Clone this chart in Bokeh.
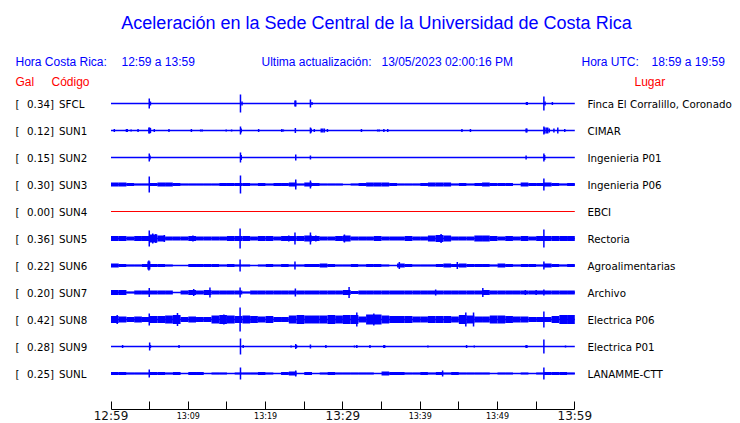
from bokeh.plotting import figure
from bokeh.models import Range1d, LinearAxis, FixedTicker, ColumnDataSource
from bokeh.core.properties import value
from bokeh.embed import file_html
from bokeh.resources import INLINE

# ---------------- data ----------------
TITLE = "Aceleración en la Sede Central de la Universidad de Costa Rica"
INFO_LEFT = ["Hora Costa Rica:", "12:59 a 13:59"]
INFO_MID = ["Ultima actualización:", "13/05/2023 02:00:16 PM"]
INFO_RIGHT = ["Hora UTC:", "18:59 a 19:59"]

STATIONS = ["SFCL", "SUN1", "SUN2", "SUN3", "SUN4", "SUN5", "SUN6", "SUN7", "SUN8", "SUN9", "SUNL"]
GAL = [0.34, 0.12, 0.15, 0.30, 0.00, 0.36, 0.22, 0.20, 0.42, 0.28, 0.25]
PLACES = ["Finca El Corralillo, Coronado", "CIMAR", "Ingenieria P01", "Ingenieria P06", "EBCI",
          "Rectoria", "Agroalimentarias", "Archivo", "Electrica P06", "Electrica P01", "LANAMME-CTT"]

TICK_MIN = list(range(0, 61, 5))
MAJOR_LABELS = {0: "12:59", 30: "13:29", 60: "13:59"}
MINOR_LABELS = {10: "13:09", 20: "13:19", 40: "13:39", 50: "13:49"}

# per-minute envelope (half-height, px)
ENV_SUN3 = [2, 2, 1.5, 1, 1, 1.5, 2, 2, 1.5, 1, 1, 1, 1, 1, 1.5, 1.5, 1.5, 1.5, 1, 1.5,
            1, 1.5, 1.5, 2, 1, 2, 1.5, 1, 1, 1, 0.5, 1, 1.5, 2, 2, 2, 1.5, 1, 1, 1,
            1.5, 2, 2, 2, 1, 1.5, 1, 1.5, 2, 1.5, 1.5, 1.5, 0.5, 2, 1.5, 1.5, 2, 1.5, 1, 1.5]
ENV_SUN5 = [2.5, 2.5, 2, 2.5, 2.5, 4, 3, 2, 2, 2, 2.5, 2, 2, 2, 2, 2.5, 2.5, 2.5, 2, 2.5,
            2.5, 2, 2.5, 2.5, 2.5, 3, 2.5, 2, 2, 2.5, 3, 2, 2, 2, 2.5, 2, 2, 2, 2.5, 2,
            2, 3, 3.5, 3, 2, 2, 2, 3, 3, 2.5, 2, 2.5, 2, 2.5, 2, 2.5, 2.5, 2.5, 2.5, 2.5]
ENV_SUN6 = [2, 1.5, 1, 1, 1.5, 1.5, 1.5, 1, 0.5, 0.5, 1.5, 1.5, 1.5, 1.5, 1, 1.5, 1, 1, 0.5, 1,
            1.5, 1, 1.5, 1, 1, 1.5, 1.5, 2, 1.5, 1, 1, 1.5, 1, 1.5, 1.5, 1, 0.5, 2, 1.5, 1,
            1, 1, 1.5, 2, 1.5, 2, 1.5, 1.5, 1.5, 1, 2, 1.5, 1, 1.5, 1.5, 1, 2, 1.5, 1, 1.5]
ENV_SUN7 = [2.5, 2.5, 1, 2, 2, 2, 2, 2, 0.5, 2, 2.5, 2, 2.5, 2, 2, 2, 2, 1, 2, 2,
            2, 2, 2, 2, 2, 2, 2, 2, 2, 2, 2.5, 1.5, 2, 2, 2, 2, 2, 2, 2, 2,
            2, 2, 2, 2, 2, 2, 2, 2, 2.5, 2, 2, 2, 2, 2, 2, 2, 2, 2, 2, 2]
ENV_SUN8 = [3.5, 3, 2.5, 3, 2.5, 3.5, 3.5, 4, 4.5, 2.5, 3, 2.5, 2.5, 4, 4.5, 4, 3.5, 4, 3.5, 3,
            3.5, 2.5, 2.5, 4, 4.5, 4, 4, 4, 4.5, 4, 4.5, 4.5, 3, 5, 5, 4, 3.5, 3.5, 3.5, 3,
            3, 3.5, 3.5, 3.5, 3, 4.5, 4, 3, 3, 4, 4, 3.5, 3, 3, 2.5, 2.5, 2.5, 3.5, 4.5, 4.5]
ENV_SUNL = [1.5, 1.5, 1, 1, 1, 1.5, 1.5, 1, 1.5, 0.5, 1.5, 1.5, 0.5, 1, 1, 0.5, 1, 1, 1, 1.5,
            1, 0.5, 1.5, 2, 0.5, 1.5, 0.5, 1, 1.5, 1, 1, 1, 1, 1, 0.5, 2, 1.5, 1.5, 1, 1,
            1.5, 1, 1.5, 1, 1.5, 1, 1, 1, 1, 0.5, 1, 1, 0.5, 1, 0.5, 1, 1.5, 1.5, 1.5, 1]

# spikes: (minute after 12:59, half-height px)
SPK_SFCL = [(4.95, 5), (5.1, 2), (16.75, 9), (16.95, 2), (23.8, 3), (23.9, 3), (25.8, 4), (26.0, 1.5),
            (53.75, 1.5), (53.85, 1.5), (56.0, 7), (56.15, 2), (57.1, 1.5)]
SPK_SUN1 = [(0.43, 1.5), (2.0, 1.5), (2.1, 1.5), (2.6, 1), (3.5, 1.5), (4.9, 3), (5.0, 3), (5.1, 2.5),
            (5.6, 1.5), (7.5, 1.5), (10.4, 1.5), (11.6, 1), (11.8, 1), (14.9, 1), (15.6, 1), (16.75, 4),
            (16.85, 2), (19.1, 1.5), (22.1, 1.5), (22.3, 1), (23.85, 2.5), (25.8, 3), (25.9, 2),
            (26.3, 1.5), (27.2, 2), (27.4, 2), (27.6, 2), (28.0, 1.5), (32.4, 1.5), (34.5, 1), (34.7, 1),
            (35.3, 1.5), (35.8, 1.5), (45.4, 1.5), (46.5, 1.5), (53.7, 2), (53.8, 2), (56.0, 4),
            (56.1, 3), (56.3, 3), (56.5, 3), (56.7, 2), (57.3, 2), (57.8, 3), (58.7, 1.5)]
SPK_SUN2 = [(4.95, 4), (5.05, 2), (16.75, 5), (16.85, 2.5), (23.9, 3), (25.8, 2), (53.7, 2),
            (56.0, 4), (56.1, 2.5)]
SPK_SUN3 = [(4.95, 8), (16.75, 9), (23.9, 5), (25.8, 4), (56.0, 6)]
SPK_SUN4 = []
SPK_SUN5 = [(4.95, 8), (5.4, 5), (5.8, 4.5), (6.9, 3.5), (10.6, 3), (16.7, 10), (23.0, 3), (23.8, 6),
            (25.8, 6), (26.5, 3), (30.2, 4), (42.7, 4.5), (56.0, 9)]
SPK_SUN6 = [(4.8, 4), (4.9, 5), (5.0, 4), (16.7, 6), (23.8, 4), (37.3, 3.5), (44.8, 3.5), (56.0, 4)]
SPK_SUN7 = [(4.95, 4.5), (10.7, 3.5), (12.8, 5), (16.7, 5), (23.85, 4), (30.8, 5.5), (42.0, 3),
            (48.1, 4.5), (53.6, 2.5), (55.0, 2.5), (56.0, 3)]
SPK_SUN8 = [(0.8, 4.5), (4.95, 6), (8.6, 6.5), (14.6, 5), (16.7, 12), (31.8, 7), (34.0, 6),
            (45.9, 7), (46.9, 7), (56.0, 8)]
SPK_SUN9 = [(1.5, 1.5), (5.0, 4), (5.1, 1.5), (8.8, 1.5), (16.75, 8), (17.1, 1.5), (23.3, 1),
            (23.9, 2.5), (24.0, 1.5), (25.8, 2), (27.8, 1.5), (31.5, 1), (31.8, 1.5), (33.5, 1.5),
            (35.3, 1.5), (35.4, 1.5), (41.0, 1), (46.0, 1.5), (47.0, 1), (53.7, 1.5), (53.8, 1.5),
            (56.0, 7), (58.8, 1)]
SPK_SUNL = [(4.95, 4), (16.75, 6), (23.9, 3), (42.9, 3), (56.0, 6)]

ENVS = [None, None, None, ENV_SUN3, None, ENV_SUN5, ENV_SUN6, ENV_SUN7, ENV_SUN8, None, ENV_SUNL]
SPIKES = [SPK_SFCL, SPK_SUN1, SPK_SUN2, SPK_SUN3, SPK_SUN4, SPK_SUN5, SPK_SUN6, SPK_SUN7,
          SPK_SUN8, SPK_SUN9, SPK_SUNL]

# ---------------- layout ----------------
W, H = 740, 423
X0_PX, X1_PX = 110.5, 574.3      # px of 12:59 and 13:59
ROW0, ROW_DY = 103, 27           # px of first trace, spacing
AXIS_Y = 409
BLUE = "#0000ff"
RED = "#ff0000"
SANS = value("Liberation Sans")
DJV = value("DejaVu Sans")

ppm = (X1_PX - X0_PX) / 60.0
p = figure(width=W, height=H, x_range=Range1d(0, W), y_range=Range1d(H, 0),
           x_axis_type=None, y_axis_type=None, output_backend="svg",
           toolbar_location=None, min_border=0, outline_line_color=None,
           background_fill_color="white", border_fill_color="white")
p.extra_x_ranges = {"t": Range1d(start=-X0_PX / ppm, end=(W - X0_PX) / ppm)}

# texts
p.text(x=[376], y=[22], text=[TITLE], text_font=SANS, text_font_size=value("18px"),
       text_color=BLUE, text_align="center", text_baseline="middle")
info_x = [15, 121, 261, 381, 581, 651]
p.text(x=info_x, y=[61] * 6, text=INFO_LEFT + INFO_MID + INFO_RIGHT, text_font=SANS,
       text_font_size=value("12px"), text_color=BLUE, text_baseline="middle")
p.text(x=[15, 51, 634], y=[81] * 3, text=["Gal", "Código", "Lugar"], text_font=SANS,
       text_font_size=value("12px"), text_color=RED, text_baseline="middle")

rows = [ROW0 + ROW_DY * i for i in range(len(STATIONS))]
p.text(x=[15] * len(rows), y=rows, text=["["] * len(rows), text_font=DJV,
       text_font_size=value("10.3px"), text_color="black", text_baseline="middle")
p.text(x=[53.5] * len(rows), y=rows, text=["%.2f]" % g for g in GAL], text_font=DJV,
       text_font_size=value("10.3px"), text_color="black", text_baseline="middle", text_align="right")
p.text(x=[58.5] * len(rows), y=rows, text=STATIONS, text_font=DJV,
       text_font_size=value("10.3px"), text_color="black", text_baseline="middle")
p.text(x=[587] * len(rows), y=rows, text=PLACES, text_font=DJV,
       text_font_size=value("10.3px"), text_color="black", text_baseline="middle")

# traces
for i, st in enumerate(STATIONS):
    base = rows[i]
    color = RED if GAL[i] == 0 else BLUE
    p.segment(x0=[0], x1=[60], y0=[base], y1=[base], line_color=color,
              line_width=1 if GAL[i] == 0 else 1.5, x_range_name="t")
    env = ENVS[i]
    if env:
        src = ColumnDataSource(dict(
            left=[m for m in range(60)], right=[m + 1 for m in range(60)],
            top=[base - e for e in env], bottom=[base + e for e in env]))
        p.quad(left="left", right="right", top="top", bottom="bottom", source=src,
               fill_color=color, line_color=None, x_range_name="t")
    spk = SPIKES[i]
    if spk:
        src = ColumnDataSource(dict(t=[s[0] for s in spk],
                                    y0=[base - s[1] for s in spk],
                                    y1=[base + s[1] for s in spk]))
        p.segment(x0="t", x1="t", y0="y0", y1="y1", source=src, line_color=color,
                  line_width=1.5, x_range_name="t")

# time axis
ax_minor = LinearAxis(x_range_name="t", ticker=FixedTicker(ticks=TICK_MIN, minor_ticks=[]),
                      fixed_location=AXIS_Y, bounds=(0, 60),
                      major_label_overrides={t: MINOR_LABELS.get(t, "") for t in TICK_MIN},
                      major_tick_in=8, major_tick_out=0, major_tick_line_color="black",
                      axis_line_color="black", axis_line_width=1,
                      major_label_text_font="DejaVu Sans", major_label_text_font_size="8px",
                      major_label_standoff=2, major_label_text_color="black")
ax_major = LinearAxis(x_range_name="t", ticker=FixedTicker(ticks=[0, 30, 60], minor_ticks=[]),
                      fixed_location=AXIS_Y, bounds=(0, 60),
                      major_label_overrides=MAJOR_LABELS,
                      major_tick_in=0, major_tick_out=0, major_tick_line_color=None,
                      axis_line_color=None,
                      major_label_text_font="DejaVu Sans", major_label_text_font_size="12px",
                      major_label_standoff=-1, major_label_text_color="#111111")
p.add_layout(ax_minor, "below")
p.add_layout(ax_major, "below")

open("out.html", "w").write(file_html(p, INLINE))
